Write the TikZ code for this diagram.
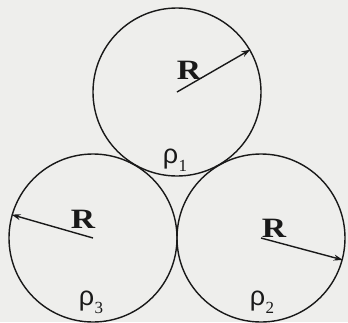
\documentclass[tikz,border=0pt]{standalone}
\usepackage{fontspec}
\setmainfont{Liberation Serif}
\newfontfamily\rhofont{Liberation Sans}
\usetikzlibrary{arrows.meta}
\definecolor{bg}{RGB}{238,238,236}
\definecolor{ink}{RGB}{25,25,25}
\newcommand{\rholab}[1]{{\rhofont ρ}\kern0.5pt\raisebox{-8pt}{\fontsize{17}{17}\selectfont #1}}
\newcommand{\bigR}{\scalebox{1.2}[1]{R}}
\tikzset{
  ball/.style={circle, draw=ink, line width=1.4pt, minimum size=168pt, inner sep=0pt},
  radius arrow/.style={draw=ink, line width=1.4pt, -{Stealth[length=9pt,width=6pt]}},
  rlabel/.style={text=ink, font=\fontsize{28}{28}\selectfont\bfseries, inner sep=0pt},
  rholabel/.style={text=ink, font=\fontsize{27}{27}\selectfont, inner sep=0pt}
}
\begin{document}
\begin{tikzpicture}[x=1pt,y=-1pt]
  \fill[bg] (0,0) rectangle (348,322);
  \useasboundingbox (0,0) rectangle (348,322);
  \node[ball] (c1) at (177,92) {};
  \node[ball] (c3) at (93,238) {};
  \node[ball] (c2) at (261,238) {};
  \draw[radius arrow] (c1.center) -- (c1.30);
  \draw[radius arrow] (c3.center) -- (c3.164);
  \draw[radius arrow] (c2.center) -- (c2.-15);
  \node[rlabel] (r1) at (189,70) {\bigR};
  \node[rlabel] (r3) at (83,219) {\bigR};
  \node[rlabel] (r2) at (274,228) {\bigR};
  \node[rholabel] (p1) at (175,160) {\rholab{1}};
  \node[rholabel] (p3) at (91,302) {\rholab{3}};
  \node[rholabel] (p2) at (262,302) {\rholab{2}};
\end{tikzpicture}
\end{document}
